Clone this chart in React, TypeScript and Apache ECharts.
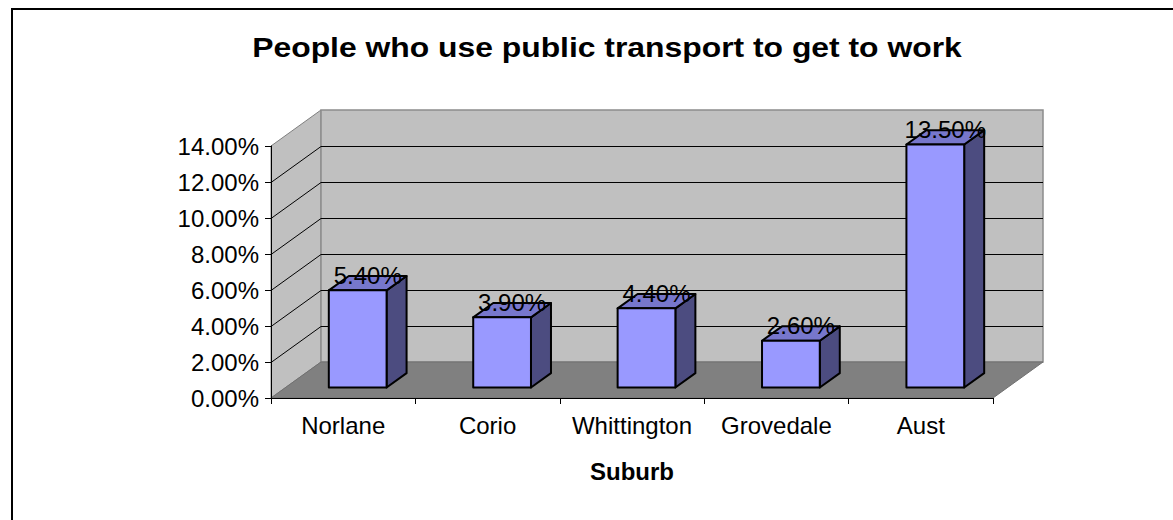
import React, { useEffect, useRef } from 'react';
import * as echarts from 'echarts';

const categories = ['Norlane', 'Corio', 'Whittington', 'Grovedale', 'Aust'];
const values = [5.4, 3.9, 4.4, 2.6, 13.5];
const yTicks = [0, 2, 4, 6, 8, 10, 12, 14];
const titleText = 'People who use public transport to get to work';
const xAxisName = 'Suburb';

const DEPTH_X = 50;
const DEPTH_Y = 36;
const BAR_FRONT = 0.29;
const BAR_BACK = 0.69;
const BAR_WIDTH = 0.4;
const FONT = '"Liberation Sans", Arial, sans-serif';

export default function App() {
  const ref = useRef<HTMLDivElement>(null);
  useEffect(() => {
    const chart = echarts.init(ref.current!, null, { renderer: 'svg' });
    const yMin = yTicks[0];
    const yMax = yTicks[yTicks.length - 1];
    const P = (x: number, y: number, d: number) => [x + DEPTH_X * d, y - DEPTH_Y * d];

    const wallsRender = (params: any, api: any) => {
      const cs = params.coordSys;
      const x0 = cs.x;
      const x1 = cs.x + cs.width;
      const yb = api.coord([0, yMin])[1];
      const yt = api.coord([0, yMax])[1];
      const children: any[] = [];
      children.push({
        type: 'polygon',
        shape: { points: [P(x0, yb, 0), P(x0, yb, 1), P(x0, yt, 1), P(x0, yt, 0)] },
        style: { fill: '#c0c0c0', stroke: '#808080', lineWidth: 1 },
      });
      children.push({
        type: 'polygon',
        shape: { points: [P(x0, yb, 1), P(x1, yb, 1), P(x1, yt, 1), P(x0, yt, 1)] },
        style: { fill: '#c0c0c0', stroke: '#8c8c8c', lineWidth: 1.5 },
      });
      children.push({
        type: 'polygon',
        shape: { points: [P(x0, yb, 0), P(x1, yb, 0), P(x1, yb, 1), P(x0, yb, 1)] },
        style: { fill: '#808080', stroke: '#707070', lineWidth: 1 },
      });
      for (const t of yTicks.slice(1, -1)) {
        const y = api.coord([0, t])[1] + 0.5;
        children.push({
          type: 'polyline',
          shape: { points: [P(x0, y, 0), P(x0, y, 1), P(x1, y, 1)] },
          style: { stroke: '#000', lineWidth: 1, fill: null },
        });
      }
      return { type: 'group', children };
    };

    const barRender = (params: any, api: any) => {
      const i = api.value(0);
      const v = api.value(1);
      const c = api.coord([i, v]);
      const cx = c[0];
      const yTop = c[1];
      const y0 = api.coord([i, 0])[1];
      const bw = api.size([1, 0])[0] * BAR_WIDTH;
      const xl = cx - bw / 2;
      const xr = cx + bw / 2;
      const f = BAR_FRONT;
      const b = BAR_BACK;
      const st = { stroke: '#000', lineWidth: 2, lineJoin: 'round' };
      const mid = P(cx, yTop, (f + b) / 2);
      return {
        type: 'group',
        children: [
          {
            type: 'polygon',
            shape: { points: [P(xr, y0, f), P(xr, y0, b), P(xr, yTop, b), P(xr, yTop, f)] },
            style: { fill: '#4c4c80', ...st },
          },
          {
            type: 'polygon',
            shape: { points: [P(xl, yTop, f), P(xr, yTop, f), P(xr, yTop, b), P(xl, yTop, b)] },
            style: { fill: '#7777cc', ...st },
          },
          {
            type: 'polygon',
            shape: { points: [P(xl, y0, f), P(xr, y0, f), P(xr, yTop, f), P(xl, yTop, f)] },
            style: { fill: '#9999ff', ...st },
          },
          {
            type: 'text',
            x: mid[0],
            y: mid[1] - 8,
            style: {
              text: v.toFixed(2) + '%',
              fill: '#000',
              fontSize: 24,
              fontFamily: FONT,
              align: 'center',
              verticalAlign: 'middle',
            },
          },
        ],
      };
    };

    chart.setOption({
      animation: false,
      grid: { left: 271, right: 180, top: 146, bottom: 122, containLabel: false },
      graphic: [
        {
          type: 'rect',
          shape: { x: 12, y: 9, width: 1300, height: 700 },
          style: { fill: 'none', stroke: '#000', lineWidth: 2 },
          z: 100,
        },
        {
          type: 'text',
          x: 607,
          y: 47,
          scaleX: 1.18,
          style: {
            text: titleText,
            fill: '#000',
            fontSize: 27,
            fontWeight: 'bold',
            fontFamily: FONT,
            align: 'center',
            verticalAlign: 'middle',
          },
        },
      ],
      xAxis: {
        type: 'category',
        data: categories,
        boundaryGap: true,
        z: 10,
        axisLine: { show: true, lineStyle: { color: '#000', width: 1 } },
        axisTick: { show: true, length: 6, alignWithLabel: false, lineStyle: { color: '#000' } },
        axisLabel: { color: '#000', fontSize: 24, fontFamily: FONT, margin: 15, interval: 0 },
        splitLine: { show: false },
        name: xAxisName,
        nameLocation: 'middle',
        nameGap: 61,
        nameTextStyle: { color: '#000', fontSize: 24, fontWeight: 'bold', fontFamily: FONT },
      },
      yAxis: {
        type: 'value',
        min: yMin,
        max: yMax,
        interval: 2,
        z: 10,
        axisLine: { show: true, lineStyle: { color: '#000', width: 1 } },
        axisTick: { show: true, length: 6, lineStyle: { color: '#000' } },
        axisLabel: {
          color: '#000',
          fontSize: 24,
          fontFamily: FONT,
          margin: 12,
          formatter: (val: number) => val.toFixed(2) + '%',
        },
        splitLine: { show: false },
      },
      series: [
        {
          type: 'custom',
          renderItem: wallsRender,
          data: [[0, 0]],
          z: 1,
          silent: true,
        },
        {
          type: 'custom',
          renderItem: barRender,
          data: values.map((v, i) => [i, v]),
          z: 3,
          silent: true,
        },
      ],
    });
    return () => chart.dispose();
  }, []);
  return (
    <div
      ref={ref}
      style={{ position: 'fixed', left: 0, top: 0, width: 1173, height: 520, background: '#fff' }}
    />
  );
}
